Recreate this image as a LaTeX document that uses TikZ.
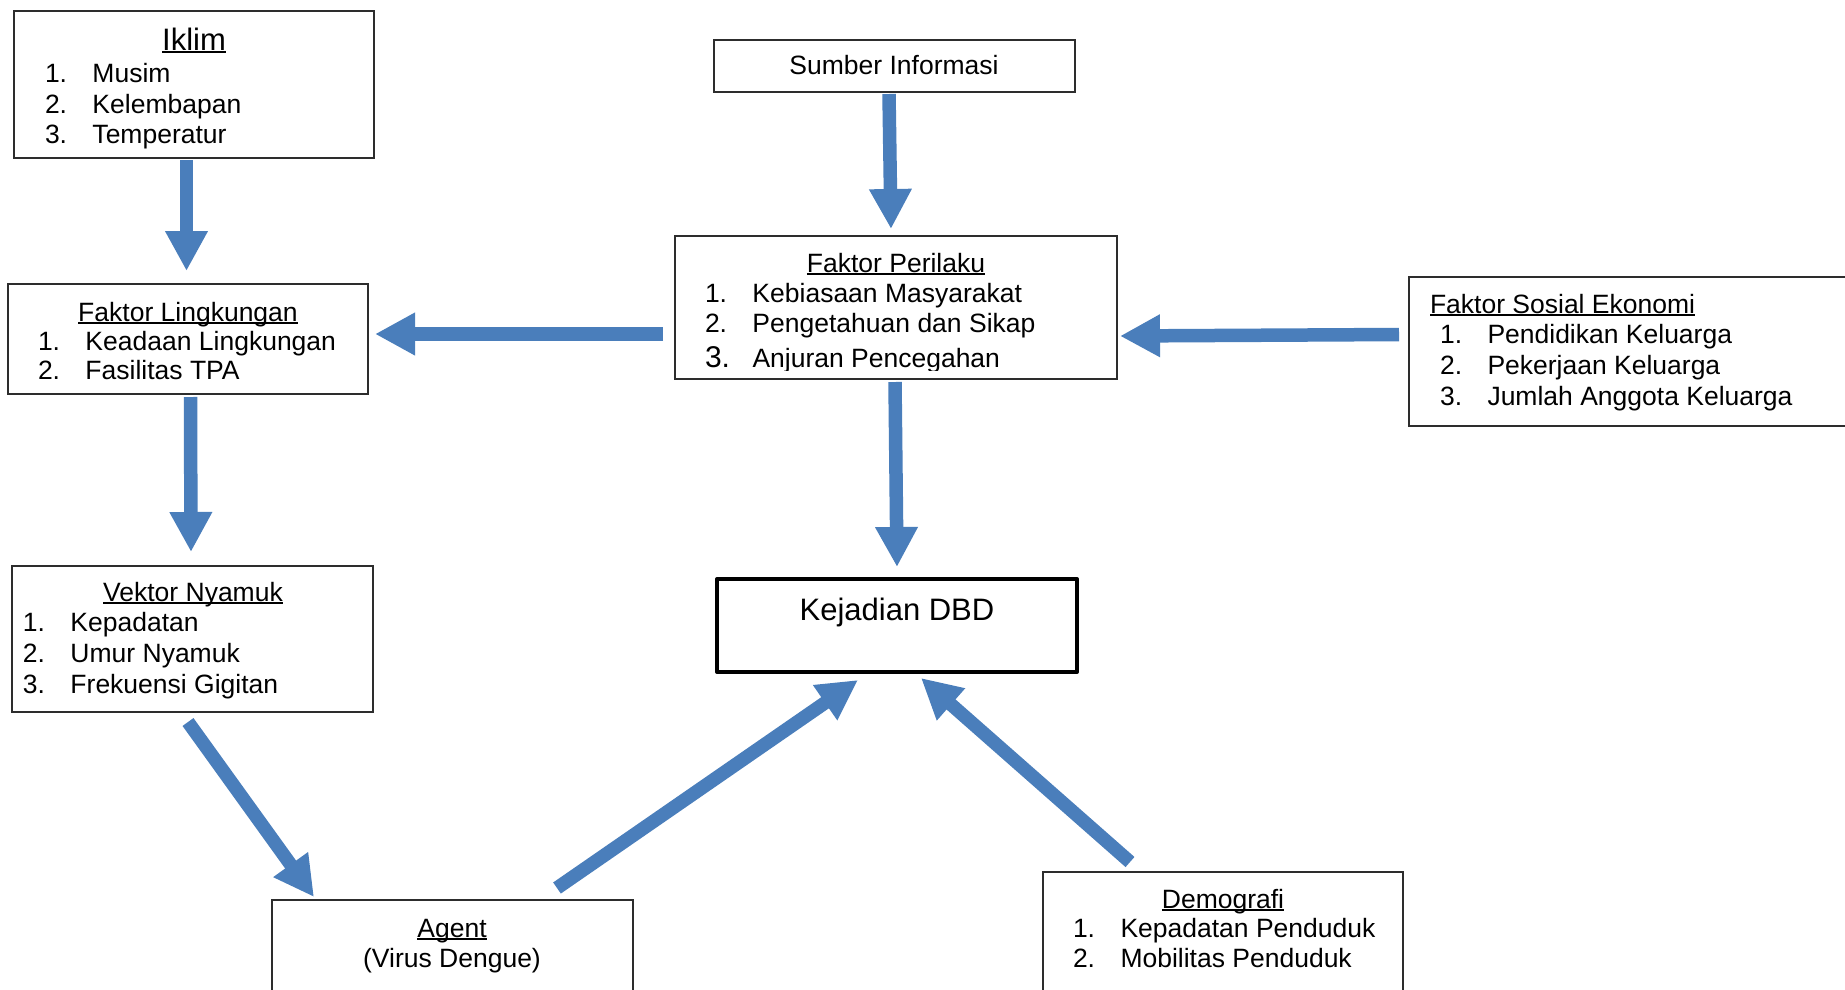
\documentclass[tikz,border=0pt]{standalone}
\usepackage{fontspec}
\setmainfont{Liberation Sans}
\usetikzlibrary{arrows.meta,calc}
\definecolor{arrowblue}{RGB}{74,126,187}
\definecolor{boxline}{RGB}{45,45,45}
\newcommand\ulx[1]{\setbox0=\hbox{#1}\rlap{\rule[-3pt]{\wd0}{1.8pt}}\box0}
\newcommand\itm[2]{\makebox[47.5pt][l]{#1}#2}
\begin{document}
\begin{tikzpicture}[x=1pt,y=-1pt,
  box/.style={draw=boxline,line width=1.3pt,inner sep=0pt,outer sep=0pt,anchor=north west},
  txt/.style={inner sep=0pt,outer sep=0pt,font=\fontsize{26.5}{30}\selectfont},
  big/.style={inner sep=0pt,outer sep=0pt,font=\fontsize{31}{34}\selectfont},
  arr/.style={draw=arrowblue,line width=13.5pt,line cap=butt,-{Triangle[length=40pt,width=40pt]}}]
\useasboundingbox (0,0) rectangle (1845,989);

% boxes
\node[box,minimum width=360pt,minimum height=147pt] (iklim) at (14,11) {};
\node[box,minimum width=360pt,minimum height=110pt] (ling) at (8,284) {};
\node[box,minimum width=361pt,minimum height=52pt] (sumber) at (714,40) {};
\node[box,minimum width=442pt,minimum height=143pt] (perilaku) at (675,236) {};
\node[box,minimum width=460pt,minimum height=149pt] (sosial) at (1409,277) {};
\node[box,minimum width=361pt,minimum height=146pt] (vektor) at (12,566) {};
\node[draw=black,line width=4pt,line join=round,inner sep=0pt,outer sep=0pt,anchor=north west,minimum width=360pt,minimum height=93pt] (kejadian) at (717,579) {};
\node[box,minimum width=361pt,minimum height=130pt] (agent) at (272,900) {};
\node[box,minimum width=360pt,minimum height=130pt] (demo) at (1043,872) {};

% Iklim
\node[big,anchor=base] (iklimT) at (194,50) {\ulx{Iklim}};
\node[txt,anchor=base west] (iklim1) at (45,82) {\itm{1.}{Musim}};
\node[txt,anchor=base west] (iklim2) at (45,113) {\itm{2.}{Kelembapan}};
\node[txt,anchor=base west] (iklim3) at (45,143) {\itm{3.}{Temperatur}};

% Faktor Lingkungan
\node[txt,anchor=base] (lingT) at (188,321) {\ulx{Faktor Lingkungan}};
\node[txt,anchor=base west] (ling1) at (38,350) {\itm{1.}{Keadaan Lingkungan}};
\node[txt,anchor=base west] (ling2) at (38,379) {\itm{2.}{Fasilitas TPA}};

% Sumber Informasi
\node[txt,anchor=base] (sumberT) at (894,74) {Sumber Informasi};

% Faktor Perilaku
\node[txt,anchor=base] (perT) at (896,272) {\ulx{Faktor Perilaku}};
\node[txt,anchor=base west] (per1) at (705,302) {\itm{1.}{Kebiasaan Masyarakat}};
\node[txt,anchor=base west] (per2) at (705,332) {\itm{2.}{Pengetahuan dan Sikap}};
\begin{scope}
\clip (675,236) rectangle (1117,370);
\node[txt,anchor=base west] (per3) at (705,367) {\itm{\fontsize{30}{30}\selectfont 3.}{Anjuran Pencegahan}};
\end{scope}

% Faktor Sosial Ekonomi
\node[txt,anchor=base west] (sosT) at (1430,313) {\ulx{Faktor Sosial Ekonomi}};
\node[txt,anchor=base west] (sos1) at (1440,343) {\itm{1.}{Pendidikan Keluarga}};
\node[txt,anchor=base west] (sos2) at (1440,374) {\itm{2.}{Pekerjaan Keluarga}};
\node[txt,anchor=base west] (sos3) at (1440,405) {\itm{3.}{Jumlah Anggota Keluarga}};

% Vektor Nyamuk
\node[txt,anchor=base] (vekT) at (193,601) {\ulx{Vektor Nyamuk}};
\node[txt,anchor=base west] (vek1) at (23,631) {\itm{1.}{Kepadatan}};
\node[txt,anchor=base west] (vek2) at (23,662) {\itm{2.}{Umur Nyamuk}};
\node[txt,anchor=base west] (vek3) at (23,693) {\itm{3.}{Frekuensi Gigitan}};

% Kejadian DBD
\node[big,anchor=base] (kejT) at (897,620) {Kejadian DBD};

% Agent
\node[txt,anchor=base] (agentT) at (452,937) {\ulx{Agent}};
\node[txt,anchor=base] (agent1) at (452,967) {(Virus Dengue)};

% Demografi
\node[txt,anchor=base] (demoT) at (1223,908) {\ulx{Demografi}};
\node[txt,anchor=base west] (demo1) at (1073,937) {\itm{1.}{Kepadatan Penduduk}};
\node[txt,anchor=base west] (demo2) at (1073,967) {\itm{2.}{Mobilitas Penduduk}};

% arrows
\draw[arr] ($(iklim.south west)+(172.5,2)$) -- ($(ling.north west)+(178.5,-13)$);
\draw[arr] ($(ling.south west)+(182.5,3)$) -- ($(vektor.north west)+(179,-14)$);
\draw[arr] ($(sumber.south west)+(175,2)$) -- ($(perilaku.north west)+(216,-7)$);
\draw[arr] ($(perilaku.west)+(-12,26.5)$) -- ($(ling.east)+(7,-5)$);
\draw[arr] ($(sosial.north west)+(-10,57.5)$) -- ($(perilaku.east)+(3,28.5)$);
\draw[arr] ($(perilaku.south west)+(220,3)$) -- ($(kejadian.north west)+(180,-12)$);
\draw[arr] ($(vektor.south west)+(176,10)$) -- ($(agent.north west)+(42,-3)$);
\draw[arr] ($(agent.north west)+(285,-12)$) -- ($(kejadian.south west)+(141,8)$);
\draw[arr] ($(demo.north west)+(87,-10)$) -- ($(kejadian.south west)+(204,6)$);
\end{tikzpicture}
\end{document}
